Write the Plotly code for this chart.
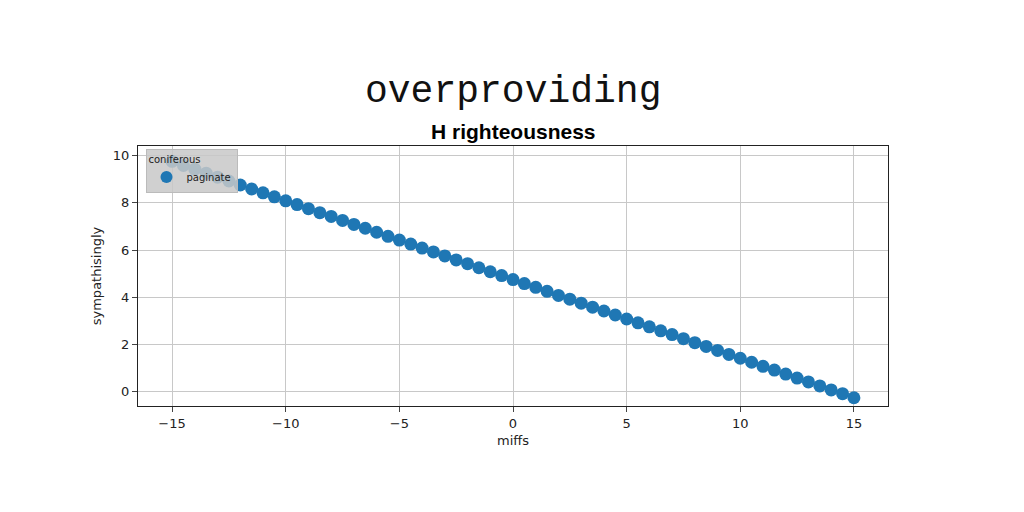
import plotly.graph_objects as go

x_vals = [-15, -14.5, -14, -13.5, -13, -12.5, -12, -11.5, -11, -10.5, -10, -9.5, -9, -8.5, -8, -7.5,
          -7, -6.5, -6, -5.5, -5, -4.5, -4, -3.5, -3, -2.5, -2, -1.5, -1, -0.5, 0,
          0.5, 1, 1.5, 2, 2.5, 3, 3.5, 4, 4.5, 5, 5.5, 6, 6.5, 7, 7.5, 8, 8.5, 9, 9.5,
          10, 10.5, 11, 11.5, 12, 12.5, 13, 13.5, 14, 14.5, 15]
y_vals = [9.75, 9.58, 9.42, 9.25, 9.08, 8.92, 8.75, 8.58, 8.42, 8.25, 8.08, 7.92, 7.75, 7.58, 7.42, 7.25,
          7.08, 6.92, 6.75, 6.58, 6.42, 6.25, 6.08, 5.92, 5.75, 5.58, 5.42, 5.25, 5.08, 4.92, 4.75,
          4.58, 4.42, 4.25, 4.08, 3.92, 3.75, 3.58, 3.42, 3.25, 3.08, 2.92, 2.75, 2.58, 2.42, 2.25,
          2.08, 1.92, 1.75, 1.58, 1.42, 1.25, 1.08, 0.92, 0.75, 0.58, 0.42, 0.25, 0.08, -0.08, -0.25]

fig = go.Figure()
fig.add_trace(go.Scatter(
    x=x_vals, y=y_vals, mode='markers', name='paginate',
    marker=dict(color='#1f77b4', size=13)
))

fig.update_layout(
    width=1024, height=512,
    paper_bgcolor='white', plot_bgcolor='white',
    margin=dict(l=130, r=144, t=138, b=114),
    showlegend=True,
    legend=dict(
        title=dict(text='coniferous', font=dict(size=10)),
        x=0.01, y=0.99, xanchor='left', yanchor='top',
        bgcolor='rgba(200,200,200,0.85)', bordercolor='#bbbbbb', borderwidth=1,
        font=dict(size=10, family='DejaVu Sans', color='#222'),
        itemsizing='constant'
    ),
    font=dict(family='DejaVu Sans', color='#222'),
    xaxis=dict(
        range=[-16.5, 16.5], tickvals=[-15, -10, -5, 0, 5, 10, 15],
        ticktext=['\u221215', '\u221210', '\u22125', '0', '5', '10', '15'],
        showgrid=True, gridcolor='#c8c8c8', zeroline=False,
        showline=True, linecolor='#222', mirror=True, ticks='outside',
        title=dict(text='miffs', font=dict(size=13), standoff=6), tickfont=dict(size=13)
    ),
    yaxis=dict(
        range=[-0.6, 10.4], tickvals=[0, 2, 4, 6, 8, 10],
        showgrid=True, gridcolor='#c8c8c8', zeroline=False,
        showline=True, linecolor='#222', mirror=True, ticks='outside',
        title=dict(text='sympathisingly', font=dict(size=13), standoff=8), tickfont=dict(size=13)
    ),
)
fig.add_annotation(text='overproviding', xref='paper', yref='paper', x=0.5, y=1.0,
                   yshift=78, showarrow=False,
                   font=dict(family='Liberation Mono', size=38, color='#111'))
fig.add_annotation(text='<b>H righteousness</b>', xref='paper', yref='paper', x=0.5, y=1.0,
                   yshift=28, showarrow=False,
                   font=dict(family='Liberation Sans Narrow, Liberation Sans', size=21, color='#000'))

fig.write_html('out.html')
